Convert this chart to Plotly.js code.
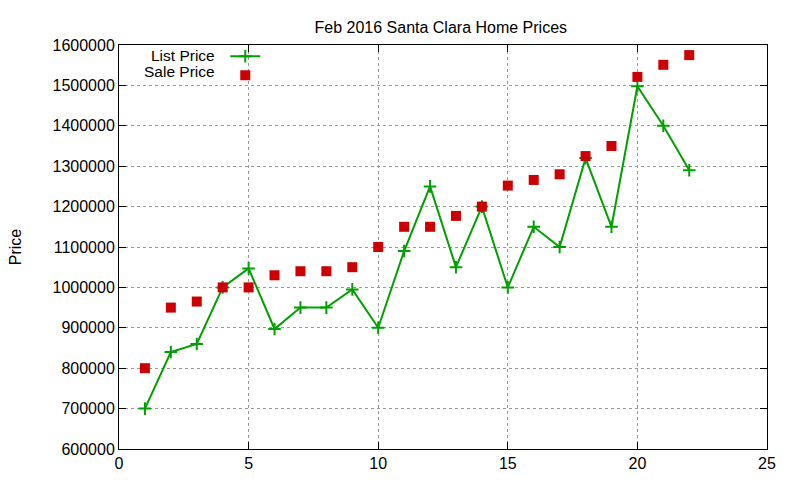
<!DOCTYPE html>
<html>
<head>
<meta charset="utf-8">
<script src="https://cdn.plot.ly/plotly-3.0.1.min.js"></script>
<style>
  body { margin: 0; background: #fff; }
  #chart { width: 800px; height: 480px; }
</style>
</head>
<body>
<div id="chart"></div>
<script>
// Feb 2016 Santa Clara home prices, one point per sale
var saleIndex = [1, 2, 3, 4, 5, 6, 7, 8, 9, 10, 11, 12, 13, 14, 15, 16, 17, 18, 19, 20, 21, 22];
var listPrice = [700000, 840000, 860000, 1000000, 1047000, 897000, 950000, 950000, 995000, 900000, 1090000,
                 1250000, 1050000, 1200000, 1000000, 1150000, 1100000, 1320000, 1150000, 1498000, 1400000, 1290000];
var salePrice = [800000, 950000, 965000, 1000000, 1000000, 1030000, 1040000, 1040000, 1050000, 1100000, 1150000,
                 1150000, 1177000, 1200000, 1252000, 1266000, 1280000, 1325000, 1350000, 1521000, 1551000, 1575000];
var seriesNames = ['List Price', 'Sale Price'];
var xTicks = [0, 5, 10, 15, 20, 25];
var yTicks = [600000, 700000, 800000, 900000, 1000000, 1100000, 1200000, 1300000, 1400000, 1500000, 1600000];

var fontFam = 'Liberation Sans, Arial, sans-serif';

var traces = [
  {
    x: saleIndex, y: listPrice, type: 'scatter', mode: 'lines+markers', name: ' ',
    line: {color: '#00a000', width: 2},
    marker: {symbol: 'cross-thin', size: 9, line: {color: '#00a000', width: 2}}
  },
  {
    x: saleIndex, y: salePrice, type: 'scatter', mode: 'markers', name: ' ',
    marker: {symbol: 'square', size: 10, color: '#cc0000'}
  }
];

// legend text sits to the left of the symbols, gnuplot style
var legendText = seriesNames.map(function(n, i) {
  return {
    text: n, xref: 'paper', yref: 'paper', x: 0.152, y: 0.975 - i * 0.04,
    xanchor: 'right', yanchor: 'middle', showarrow: false,
    font: {family: fontFam, size: 15.5, color: '#000'}
  };
});

var axisCommon = {
  showline: true, linecolor: '#000', linewidth: 1, mirror: 'ticks',
  ticks: 'inside', ticklen: 7, tickcolor: '#000',
  showgrid: true, gridcolor: '#999', griddash: 'dot', gridwidth: 1,
  zeroline: false, tickfont: {family: fontFam, size: 16, color: '#000'}
};

var layout = {
  width: 800, height: 480,
  margin: {l: 119, r: 33, t: 45, b: 31},
  paper_bgcolor: '#fff', plot_bgcolor: '#fff',
  title: {text: 'Feb 2016 Santa Clara Home Prices', x: 0.551, xanchor: 'center', y: 0.955,
          font: {family: fontFam, size: 16, color: '#000'}},
  xaxis: Object.assign({}, axisCommon, {range: [0, 25], tickvals: xTicks, ticktext: xTicks.map(String)}),
  yaxis: Object.assign({}, axisCommon, {
    range: [600000, 1600000], tickvals: yTicks, ticktext: yTicks.map(String),
    title: {text: 'Price', standoff: 26, font: {family: fontFam, size: 16, color: '#000'}}
  }),
  showlegend: true,
  legend: {x: 0.164, y: 1.008, xanchor: 'left', yanchor: 'top', bgcolor: 'rgba(0,0,0,0)',
           font: {family: fontFam, size: 11}, tracegroupgap: 0, itemwidth: 30},
  annotations: legendText
};

Plotly.newPlot('chart', traces, layout, {displayModeBar: false, staticPlot: true});
</script>
</body>
</html>
